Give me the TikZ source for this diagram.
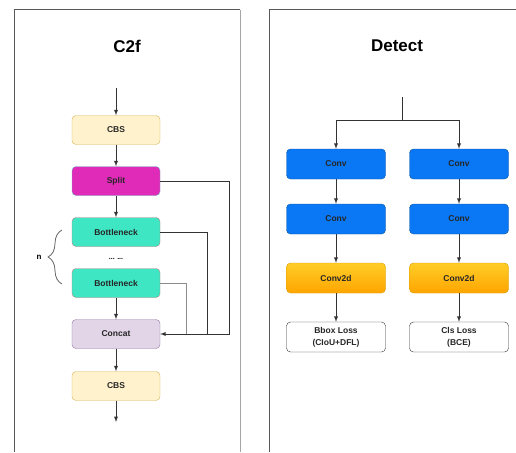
\documentclass[tikz,border=0pt]{standalone}
\usepackage{fontspec}
\setmainfont{Liberation Sans}
\usetikzlibrary{positioning,calc,decorations.pathreplacing}

\definecolor{cbsfill}{HTML}{FFF2CC}
\definecolor{cbsline}{HTML}{D6B656}
\definecolor{splitfill}{HTML}{E02AB8}
\definecolor{splitline}{HTML}{6FB8C8}
\definecolor{bnfill}{HTML}{3EE6C4}
\definecolor{bnline}{HTML}{C08080}
\definecolor{catfill}{HTML}{E1D5E7}
\definecolor{catline}{HTML}{9673A6}
\definecolor{convfill}{HTML}{0A78F5}
\definecolor{convline}{HTML}{10539A}
\definecolor{cdtop}{HTML}{FFCD28}
\definecolor{cdbot}{HTML}{FFA500}
\definecolor{cdline}{HTML}{D79B00}
\definecolor{wire}{HTML}{333333}

\tikzset{
  blk/.style={draw, rounded corners=4pt, minimum width=88pt, minimum height=29pt,
    inner sep=0pt, text=black!85, font=\bfseries\fontsize{8.5}{10}\selectfont},
  hd/.style={blk, minimum width=99pt, minimum height=30pt},
  ttl/.style={font=\bfseries\fontsize{17}{20}\selectfont},
  wirestyle/.style={draw=wire, line width=0.9pt}
}

\begin{document}
\begin{tikzpicture}[>=latex, x=1pt, y=-1pt]
\useasboundingbox (0,0) rectangle (516,452);

% panels
\draw[black!65, line width=1pt](14,452)--(14,10)--(240,10);
\draw[black!35, line width=1pt](240,10)--(240,452);
\draw[black!65, line width=1pt](516,10)--(269,10)--(269,452);
\node[ttl] (t1) at (127,46) {C2f};
\node[ttl] (t2) at (397,46) {Detect};

% C2f
\coordinate (cin) at (116,88);
\node[blk, fill=cbsfill, draw=cbsline] (cbs1) at (116,130) {CBS};
\node[blk, fill=splitfill, draw=splitline] (split) at (116,181) {Split};
\node[blk, fill=bnfill, draw=bnline] (bn1) at (116,232) {Bottleneck};
\node (dots) at (116,259) {\bfseries\fontsize{7}{8}\selectfont ... ...};
\node[blk, fill=bnfill, draw=bnline] (bn2) at (116,283) {Bottleneck};
\node[blk, fill=catfill, draw=catline] (concat) at (116,334) {Concat};
\node[blk, fill=cbsfill, draw=cbsline] (cbs2) at (116,386) {CBS};
\coordinate (cout) at (116,422);

\draw[wirestyle,->](cin)--(cbs1);
\draw[wirestyle,->](cbs1)--(split);
\draw[wirestyle,->](split)--(bn1);
\draw[wirestyle,->](bn2)--(concat);
\draw[wirestyle,->](concat)--(cbs2);
\draw[wirestyle,->](cbs2)--(cout);

\coordinate (r3) at (186,334);
\coordinate (r2) at (207,334);
\coordinate (r1) at (229,334);
\draw[draw=black!45, line width=0.9pt](bn2.east)-|(r3);
\draw[wirestyle](bn1.east)-|(r2);
\draw[wirestyle,->](split.east)-|(r1)--(concat.east);

\draw[black!60, line width=0.8pt, decorate, decoration={brace, amplitude=14pt}]
  (62,284)--(62,230);
\node (n) at (39,257) {\bfseries\fontsize{8}{9}\selectfont n};

% Detect
\coordinate (din) at (402,97);
\coordinate (dsplit) at (402,120);
\node[hd, fill=convfill, draw=convline] (convA) at (336,164) {Conv};
\node[hd, fill=convfill, draw=convline] (convB) at (459,164) {Conv};
\node[hd, fill=convfill, draw=convline] (convC) at (336,219) {Conv};
\node[hd, fill=convfill, draw=convline] (convD) at (459,219) {Conv};
\node[hd, top color=cdtop, bottom color=cdbot, draw=cdline] (cdA) at (336,278) {Conv2d};
\node[hd, top color=cdtop, bottom color=cdbot, draw=cdline] (cdB) at (459,278) {Conv2d};
\node[hd, fill=white, draw=wire, align=center, font=\bfseries\fontsize{8.5}{12}\selectfont] (lossA) at (336,337) {Bbox Loss\\(CIoU+DFL)};
\node[hd, fill=white, draw=wire, align=center, font=\bfseries\fontsize{8.5}{12}\selectfont] (lossB) at (459,337) {Cls Loss\\(BCE)};

\draw[wirestyle](din)--(dsplit);
\draw[wirestyle,->](dsplit)-|(convA);
\draw[wirestyle,->](dsplit)-|(convB);
\draw[wirestyle,->](convA)--(convC);
\draw[wirestyle,->](convB)--(convD);
\draw[wirestyle,->](convC)--(cdA);
\draw[wirestyle,->](convD)--(cdB);
\draw[wirestyle,->](cdA)--(lossA);
\draw[wirestyle,->](cdB)--(lossB);
\end{tikzpicture}
\end{document}
